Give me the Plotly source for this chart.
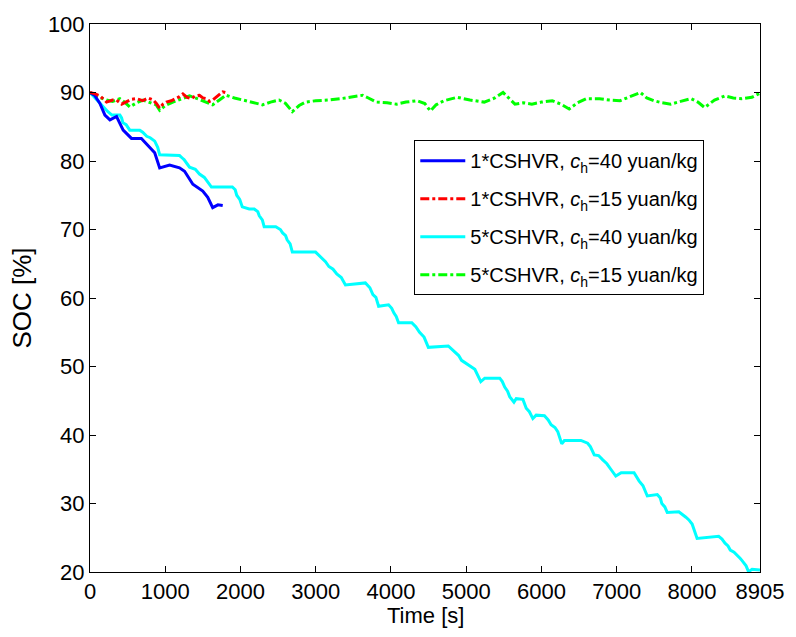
import plotly.graph_objects as go

# ---- data ----
t_blue40 = [0, 60, 132, 198, 265, 353, 441, 551, 683, 794, 860, 926, 1058, 1190, 1257, 1367, 1499, 1565, 1631, 1700, 1764]
soc_blue40 = [90.0, 89.6, 88.4, 86.7, 86.0, 86.5, 84.5, 83.3, 83.3, 81.9, 81.2, 79.0, 79.4, 79.0, 78.5, 76.6, 75.6, 74.7, 73.2, 73.6, 73.5]

t_red15 = [0, 70, 132, 220, 300, 353, 420, 485, 550, 617, 700, 772, 840, 882, 926, 970, 1014, 1080, 1146, 1190, 1235, 1290, 1345, 1400, 1455, 1500, 1543, 1590, 1631, 1700, 1764, 1800]
soc_red15 = [90.0, 89.8, 89.5, 88.6, 88.9, 88.9, 88.3, 88.6, 89.0, 89.1, 88.8, 89.2, 88.9, 88.4, 87.7, 88.3, 88.6, 88.8, 89.1, 89.4, 89.8, 89.3, 89.1, 89.5, 89.6, 89.2, 89.1, 88.7, 88.9, 89.6, 90.1, 90.0]

t_cyan40 = [0, 100, 172, 238, 291, 397, 420, 437, 480, 529, 661, 700, 754, 800, 860, 900, 926, 1190, 1230, 1250, 1290, 1323, 1400, 1455, 1520, 1560, 1614, 1892, 1930, 1950, 1990, 2024, 2116, 2183, 2230, 2250, 2290, 2315, 2469, 2530, 2560, 2600, 2620, 2660, 2689, 2998, 3050, 3080, 3130, 3175, 3230, 3280, 3340, 3395, 3660, 3720, 3760, 3800, 3836, 3968, 4010, 4040, 4070, 4101, 4277, 4330, 4380, 4440, 4497, 4762, 4810, 4860, 4900, 4938, 5049, 5115, 5194, 5247, 5446, 5480, 5512, 5550, 5578, 5635, 5665, 5754, 5798, 5840, 5886, 5930, 6040, 6090, 6128, 6180, 6217, 6270, 6305, 6525, 6614, 6650, 6702, 6760, 6812, 6870, 6922, 6988, 7060, 7231, 7297, 7350, 7407, 7540, 7580, 7600, 7640, 7672, 7826, 7880, 7920, 7960, 8003, 8069, 8356, 8400, 8440, 8480, 8510, 8560, 8600, 8640, 8664, 8720, 8752, 8800, 8905]
soc_cyan40 = [90.0, 88.8, 87.9, 87.2, 86.7, 86.7, 86.3, 85.6, 85.3, 84.5, 84.5, 84.2, 83.6, 83.4, 82.9, 82.0, 80.9, 80.8, 80.4, 80.2, 79.6, 79.1, 78.8, 78.1, 77.6, 77.0, 76.2, 76.2, 75.8, 75.0, 74.4, 73.3, 73.0, 73.0, 72.6, 72.0, 71.4, 70.4, 70.4, 70.0, 69.5, 69.1, 68.5, 67.9, 66.7, 66.7, 66.2, 65.8, 65.3, 64.6, 64.2, 63.5, 63.0, 61.9, 62.2, 61.5, 60.5, 60.1, 58.8, 59.0, 58.5, 57.8, 57.3, 56.4, 56.4, 55.8, 55.0, 54.3, 52.8, 53.0, 52.5, 52.0, 51.6, 50.9, 50.1, 49.6, 47.8, 48.3, 48.3, 47.8, 47.0, 46.4, 45.6, 44.8, 45.3, 45.2, 43.9, 43.4, 42.4, 42.9, 42.8, 42.2, 41.5, 41.1, 40.5, 38.7, 39.2, 39.2, 38.8, 38.3, 37.1, 37.0, 36.4, 35.8, 35.0, 34.0, 34.5, 34.5, 33.3, 32.6, 31.1, 31.3, 30.8, 30.0, 29.5, 28.7, 28.8, 28.4, 28.0, 27.6, 27.0, 24.9, 25.2, 24.8, 24.2, 23.8, 23.2, 22.9, 22.5, 22.0, 21.7, 20.9, 20.05, 20.4, 20.3]

t_green15 = [0, 100, 220, 300, 397, 460, 529, 620, 705, 800, 880, 926, 1000, 1102, 1200, 1323, 1450, 1540, 1631, 1720, 1808, 1920, 2028, 2150, 2293, 2400, 2513, 2600, 2689, 2780, 2866, 3000, 3130, 3175, 3400, 3624, 3700, 3804, 3950, 4074, 4200, 4344, 4450, 4524, 4600, 4704, 4882, 5050, 5240, 5380, 5490, 5560, 5648, 5760, 5873, 6000, 6144, 6260, 6369, 6480, 6594, 6773, 6900, 7044, 7180, 7315, 7400, 7493, 7600, 7718, 7850, 7989, 8080, 8169, 8300, 8439, 8550, 8664, 8797, 8905]
soc_green15 = [90.0, 89.4, 88.9, 88.7, 89.1, 88.6, 87.9, 88.5, 88.9, 88.5, 88.2, 87.4, 88.1, 88.6, 89.0, 89.5, 89.0, 88.6, 88.2, 88.9, 89.6, 89.2, 88.9, 88.6, 88.2, 88.6, 88.9, 88.4, 87.2, 88.1, 88.6, 88.8, 88.9, 88.9, 89.2, 89.6, 89.2, 88.6, 88.5, 88.3, 88.6, 88.8, 88.4, 87.3, 88.2, 88.8, 89.3, 88.9, 88.6, 89.2, 90.0, 89.3, 88.3, 88.5, 88.3, 88.6, 88.8, 88.3, 87.6, 88.5, 89.1, 89.1, 88.9, 88.8, 89.4, 90.0, 89.2, 88.8, 88.5, 88.3, 88.7, 89.1, 88.6, 87.8, 88.9, 89.5, 89.2, 89.1, 89.3, 89.9]

labels = [
    "1*CSHVR, <i>c</i><sub>h</sub>=40 yuan/kg",
    "1*CSHVR, <i>c</i><sub>h</sub>=15 yuan/kg",
    "5*CSHVR, <i>c</i><sub>h</sub>=40 yuan/kg",
    "5*CSHVR, <i>c</i><sub>h</sub>=15 yuan/kg",
]

x_tickvals = [0, 1000, 2000, 3000, 4000, 5000, 6000, 7000, 8000, 8905]
x_ticktext = ["0", "1000", "2000", "3000", "4000", "5000", "6000", "7000", "8000", "8905"]
y_tickvals = [20, 30, 40, 50, 60, 70, 80, 90, 100]

# ---- figure ----
fig = go.Figure()
series = [
    (t_blue40, soc_blue40, "#0000ff", "solid"),
    (t_red15, soc_red15, "#ff0000", "dashdot"),
    (t_cyan40, soc_cyan40, "#00ffff", "solid"),
    (t_green15, soc_green15, "#00ff00", "dashdot"),
]
# draw cyan and green first so blue / red lie on top; legend order by rank
for idx in [2, 3, 0, 1]:
    xs, ys, col, dash = series[idx]
    fig.add_trace(go.Scatter(
        x=xs, y=ys, mode="lines", name=labels[idx], legendgroup=f"g{idx}",
        legendrank=idx + 1,
        line=dict(color=col, width=3, dash=dash),
    ))

font_family = "Liberation Sans, Arial, sans-serif"
fig.update_layout(
    width=796, height=637,
    paper_bgcolor="white", plot_bgcolor="white",
    margin=dict(l=90, r=33, t=18, b=65),
    font=dict(family=font_family, size=22, color="black"),
    showlegend=True,
    legend=dict(
        x=0.484, y=0.788, xanchor="left", yanchor="top",
        bgcolor="white", bordercolor="black", borderwidth=1,
        font=dict(family=font_family, size=20, color="black"),
        traceorder="grouped", tracegroupgap=9, itemwidth=45,
    ),
    xaxis=dict(
        range=[0, 8905], tickvals=x_tickvals, ticktext=x_ticktext,
        ticks="inside", ticklen=6, tickcolor="black",
        showline=True, linecolor="black", linewidth=1, mirror="ticks",
        showgrid=False, zeroline=False,
        tickfont=dict(size=22),
    ),
    yaxis=dict(
        range=[20, 100], tickvals=y_tickvals,
        ticks="inside", ticklen=6, tickcolor="black",
        showline=True, linecolor="black", linewidth=1, mirror="ticks",
        showgrid=False, zeroline=False,
        title=dict(text="SOC [%]", standoff=8),
        tickfont=dict(size=22),
    ),
    annotations=[dict(
        text="Time [s]", xref="paper", yref="paper", x=0.5, y=-0.079,
        xanchor="center", yanchor="middle", showarrow=False,
        font=dict(family=font_family, size=22, color="black"),
    )],
)

fig.write_html("out.html")
